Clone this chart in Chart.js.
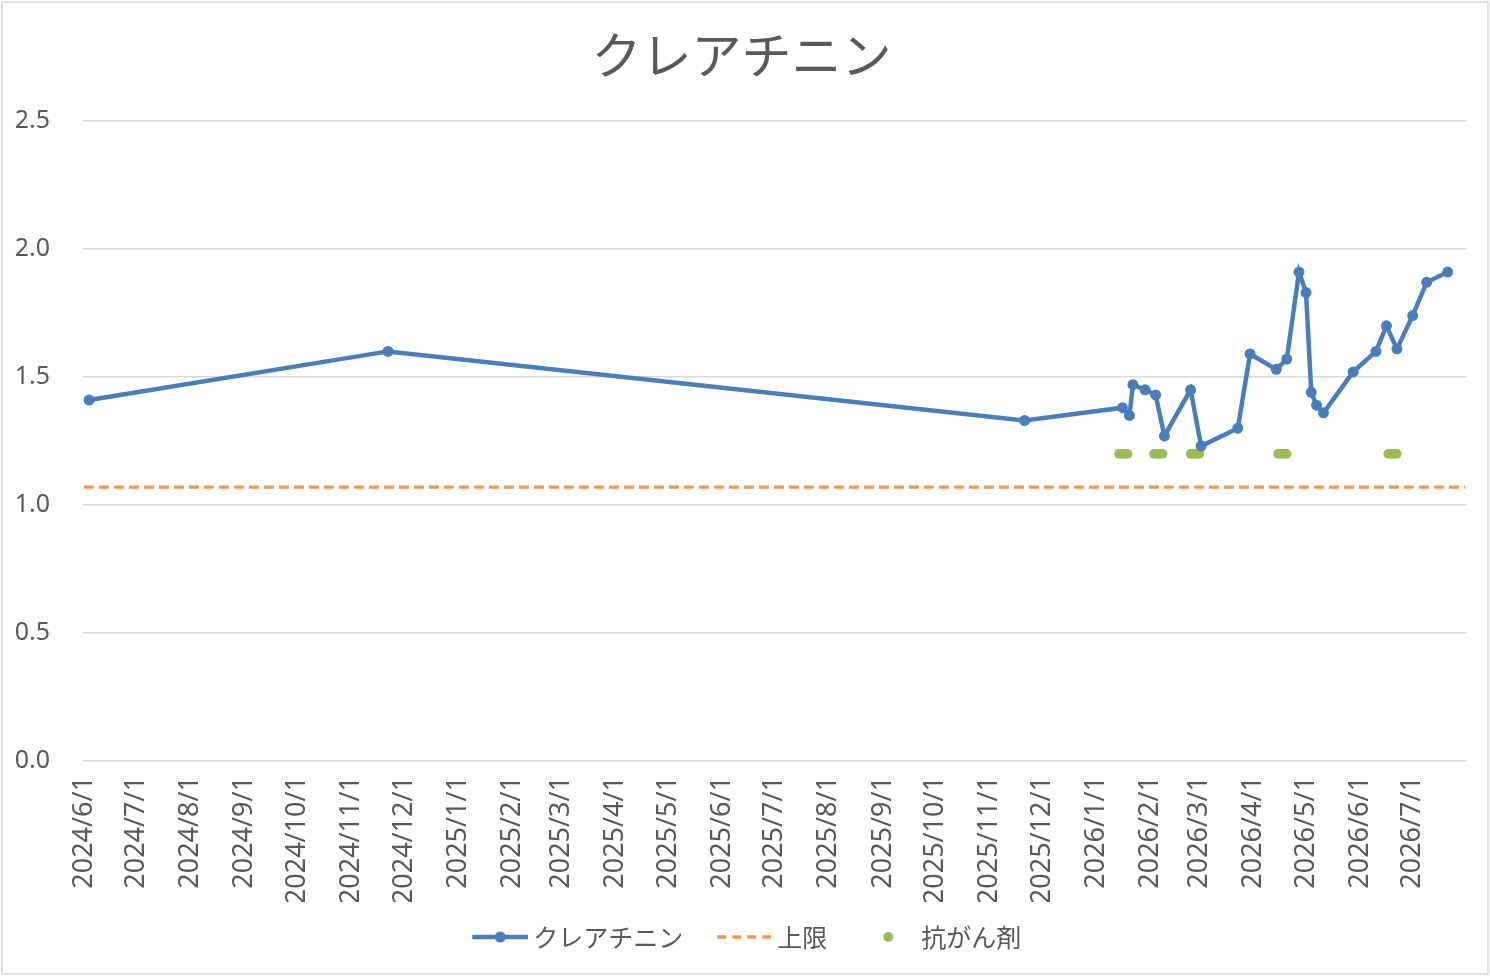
<!DOCTYPE html>
<html>
<head>
<meta charset="utf-8">
<script src="https://cdn.jsdelivr.net/npm/chart.js@4.4.1/dist/chart.umd.min.js"></script>
<style>
html,body{margin:0;padding:0;background:#fff;}
#wrap{width:1490px;height:976px;}
</style>
</head>
<body>
<div id="wrap"><canvas id="c" width="1490" height="976"></canvas></div>
<script>
// ---- data ----
const chartTitle = 'クレアチニン';
const seriesNames = ['クレアチニン', '上限', '抗がん剤'];
const tickLabels = ['2024/6/1','2024/7/1','2024/8/1','2024/9/1','2024/10/1','2024/11/1','2024/12/1',
  '2025/1/1','2025/2/1','2025/3/1','2025/4/1','2025/5/1','2025/6/1','2025/7/1','2025/8/1','2025/9/1',
  '2025/10/1','2025/11/1','2025/12/1','2026/1/1','2026/2/1','2026/3/1','2026/4/1','2026/5/1','2026/6/1','2026/7/1'];
const axisRange = ['2024-06-01', '2026-07-31'];
const creatDates = ['2024-06-04','2024-11-22','2025-11-21','2026-01-16','2026-01-20','2026-01-22','2026-01-29',
  '2026-02-04','2026-02-09','2026-02-24','2026-03-02','2026-03-23','2026-03-30','2026-04-14','2026-04-20',
  '2026-04-27','2026-05-01','2026-05-04','2026-05-07','2026-05-11','2026-05-28','2026-06-10','2026-06-16',
  '2026-06-22','2026-07-01','2026-07-09','2026-07-21'];
const creatValues = [1.41,1.60,1.33,1.38,1.35,1.47,1.45,1.43,1.27,1.45,1.23,1.30,1.59,1.53,1.57,1.91,1.83,
  1.44,1.39,1.36,1.52,1.60,1.70,1.61,1.74,1.87,1.91];
const limitDates = ['2024-06-01','2026-07-31'];
const limitValues = [1.07, 1.07];
const chemoDates = ['2026-01-14','2026-01-15','2026-01-16','2026-01-17','2026-01-18','2026-01-19',
  '2026-02-03','2026-02-04','2026-02-05','2026-02-06','2026-02-07','2026-02-08',
  '2026-02-24','2026-02-25','2026-02-26','2026-02-27','2026-02-28','2026-03-01',
  '2026-04-15','2026-04-16','2026-04-17','2026-04-18','2026-04-19','2026-04-20',
  '2026-06-17','2026-06-18','2026-06-19','2026-06-20','2026-06-21','2026-06-22'];
const chemoValues = [1.2,1.2,1.2,1.2,1.2,1.2, 1.2,1.2,1.2,1.2,1.2,1.2, 1.2,1.2,1.2,1.2,1.2,1.2,
  1.2,1.2,1.2,1.2,1.2,1.2, 1.2,1.2,1.2,1.2,1.2,1.2];
const yTicks = [0, 0.5, 1.0, 1.5, 2.0, 2.5];

// ---- helpers ----
const ORIGIN = Date.UTC(2024, 5, 1);
function dayOf(s){
  const p = s.replace(/\//g,'-').split('-').map(Number);
  return (Date.UTC(p[0], p[1]-1, p[2]) - ORIGIN) / 86400000;
}
const toPts = (ds, vs) => ds.map((d, i) => ({x: dayOf(d), y: vs[i]}));
const tickDays = tickLabels.map(dayOf);

const BLUE = '#4A7EBB', ORANGE = '#F79646', GREEN = '#9BBB59', TXT = '#595959';
const JP = '"Noto Sans CJK JP", "Noto Sans", sans-serif';

// legend symbol images: canvas 74 wide, symbol drawn in [18, 74]
function legendImg(kind){
  const c = document.createElement('canvas');
  c.width = 74; c.height = 14;
  const g = c.getContext('2d');
  const x0 = 18, x1 = 74, cx = 46;
  if (kind === 'line') {
    g.strokeStyle = BLUE; g.lineWidth = 4.5;
    g.beginPath(); g.moveTo(x0, 7); g.lineTo(x1, 7); g.stroke();
    g.fillStyle = BLUE; g.beginPath(); g.arc(cx, 7, 5.5, 0, Math.PI*2); g.fill();
  } else if (kind === 'dash') {
    g.strokeStyle = ORANGE; g.lineWidth = 3.3; g.setLineDash([9, 6]);
    g.beginPath(); g.moveTo(x0 + 1, 7); g.lineTo(x1, 7); g.stroke();
  } else {
    g.fillStyle = GREEN; g.beginPath(); g.arc(cx, 7, 5, 0, Math.PI*2); g.fill();
  }
  return c;
}
const legendImgs = [legendImg('line'), legendImg('dash'), legendImg('dot')];

const borderPlugin = {
  id: 'outerBorder',
  beforeDraw(chart){
    const g = chart.ctx;
    g.save();
    g.fillStyle = '#fff'; g.fillRect(0, 0, chart.width, chart.height);
    g.strokeStyle = '#d9d9d9'; g.lineWidth = 1.5;
    g.strokeRect(2, 2, chart.width - 4, chart.height - 4);
    g.restore();
  }
};

new Chart(document.getElementById('c'), {
  type: 'line',
  data: {
    datasets: [
      { label: seriesNames[0], data: toPts(creatDates, creatValues), borderColor: BLUE, backgroundColor: BLUE,
        borderWidth: 4.5, pointRadius: 5.5, pointBorderWidth: 0, pointBackgroundColor: BLUE, tension: 0, order: 1 },
      { label: seriesNames[1], data: toPts(limitDates, limitValues), borderColor: ORANGE, backgroundColor: ORANGE,
        borderWidth: 3.3, borderDash: [10, 5], pointRadius: 0, order: 3 },
      { label: seriesNames[2], data: toPts(chemoDates, chemoValues), showLine: false, borderColor: GREEN,
        backgroundColor: GREEN, pointRadius: 4.8, pointBorderWidth: 0, pointBackgroundColor: GREEN, order: 2 }
    ]
  },
  options: {
    responsive: false,
    devicePixelRatio: 1,
    animation: false,
    events: [],
    layout: { padding: { left: 0, right: 7, top: 0, bottom: 16.5 } },
    plugins: {
      tooltip: { enabled: false },
      title: {
        display: true, text: chartTitle, color: TXT,
        font: { family: JP, size: 50, weight: 'normal', lineHeight: 1.2 },
        padding: { top: 25, bottom: 36 }
      },
      legend: {
        position: 'bottom',
        labels: {
          color: TXT,
          font: { family: JP, size: 25 },
          usePointStyle: true,
          pointStyleWidth: 59,
          padding: 22.5,
          generateLabels: (chart) => chart.data.datasets.map((ds, i) => ({
            text: ds.label, pointStyle: legendImgs[i], fillStyle: ds.borderColor,
            strokeStyle: ds.borderColor, lineWidth: 0, hidden: false, datasetIndex: i, fontColor: TXT
          }))
        }
      }
    },
    scales: {
      x: {
        type: 'linear',
        min: dayOf(axisRange[0]) - 0.5,
        max: dayOf(axisRange[1]) + 0.5,
        afterBuildTicks: (s) => { s.ticks = tickDays.map(v => ({ value: v })); },
        afterFit: (s) => { s.height = 141; },
        grid: { display: false, drawTicks: false },
        border: { display: false },
        ticks: {
          autoSkip: false, maxRotation: 90, minRotation: 90, padding: 15, color: TXT,
          font: { family: '"Noto Sans", sans-serif', size: 27 },
          callback: (v) => { const i = tickDays.indexOf(v); return i >= 0 ? tickLabels[i] : ''; }
        }
      },
      y: {
        type: 'linear', min: yTicks[0], max: yTicks[yTicks.length - 1],
        afterBuildTicks: (s) => { s.ticks = yTicks.map(v => ({ value: v })); },
        afterFit: (s) => { s.width = 83; },
        grid: { color: '#d9d9d9', lineWidth: 1.5, drawTicks: false },
        border: { display: false },
        ticks: { padding: 33, color: TXT, font: { family: '"Noto Sans", sans-serif', size: 25 },
          callback: (v) => Number(v).toFixed(1) }
      },
      yRight: {
        type: 'linear', position: 'right', display: true,
        afterFit: (s) => { s.width = 17; },
        grid: { display: false, drawTicks: false }, border: { display: false },
        ticks: { display: false }
      }
    }
  },
  plugins: [borderPlugin]
});
</script>
</body>
</html>
